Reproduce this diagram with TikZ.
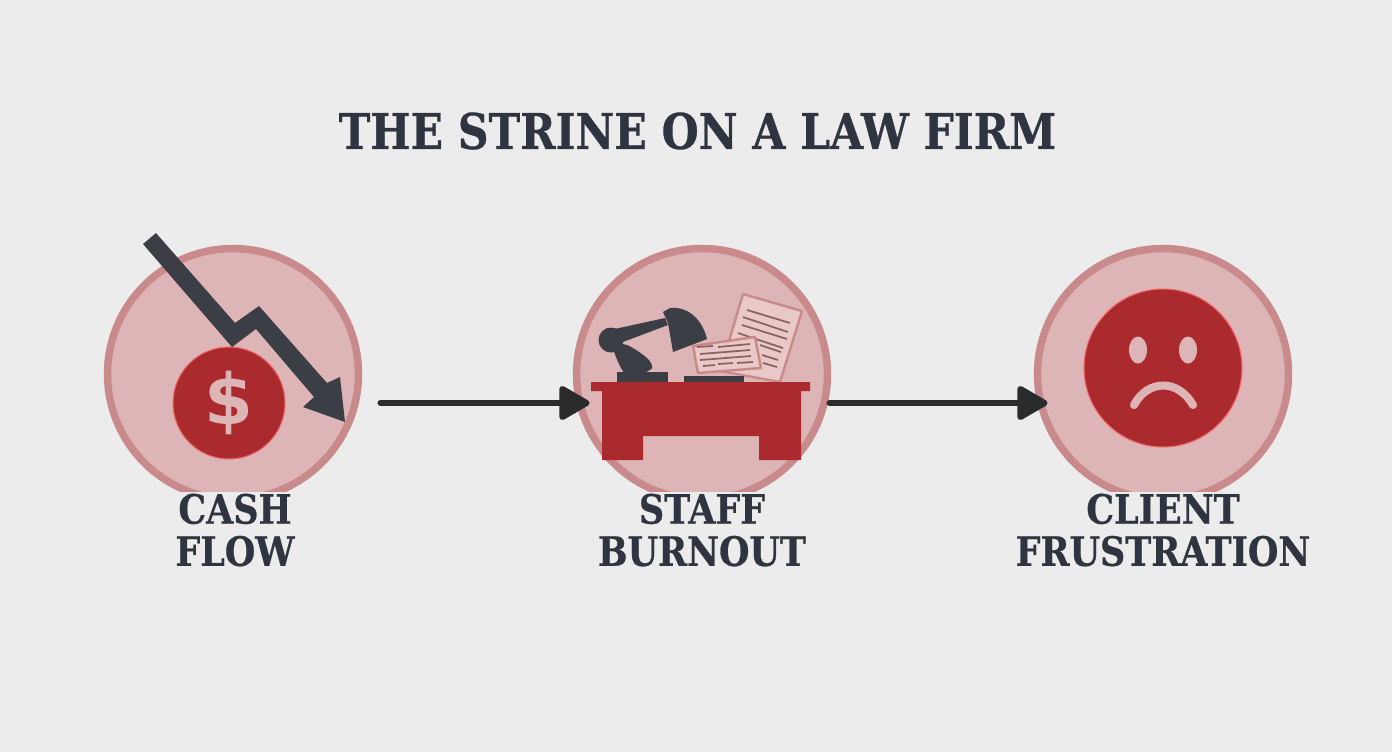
\documentclass[tikz,border=0pt]{standalone}
\usepackage{fontspec}
\setmainfont{DejaVu Serif}[FakeStretch=0.865,BoldFeatures={FakeBold=0.6}]
\newfontfamily\signfont{DejaVu Sans}
\usetikzlibrary{arrows.meta}
\definecolor{paperbg}{HTML}{EDECEC}
\definecolor{ringpink}{HTML}{C98A8C}
\definecolor{softpink}{HTML}{DDB5B6}
\definecolor{sheetpink}{HTML}{E8C9C8}
\definecolor{deskred}{HTML}{AB2A2D}
\definecolor{slate}{HTML}{3C3E45}
\definecolor{inkdark}{HTML}{2A2B2D}
\definecolor{titleink}{HTML}{2F3540}
\tikzset{
  stagecircle/.style={circle,draw=ringpink,fill=softpink,line width=4.25pt,minimum size=5.02cm,inner sep=0pt,outer sep=0pt},
  redbadge/.style={circle,draw=red!45!softpink,fill=deskred,line width=0.6pt,inner sep=0pt,outer sep=0pt},
  stagelabel/.style={fill=paperbg,text=titleink,font=\fontsize{23}{24}\selectfont\bfseries,align=center,inner sep=1pt},
  flowarrow/.style={draw=inkdark,line width=3.4pt,line cap=round,-{Triangle[length=19pt,width=21pt,round]}},
  sheet/.style={fill=sheetpink,draw=ringpink,line width=1.4pt,line join=round},
  sheetline/.style={draw=ringpink!70!black,line width=1pt}
}
\begin{document}
\begin{tikzpicture}[x=0.02cm,y=-0.02cm]
    % Draw the page
    \fill[paperbg] (0,0) rectangle (1392,752);
    \useasboundingbox (0,0) rectangle (1392,752);
    % Draw the title
    \node[text=titleink,font=\fontsize{28}{30}\selectfont\bfseries] (title) at (697.5,131) {THE STRINE ON A LAW FIRM};
    % Draw the three circles
    \node[stagecircle] (cashflow) at (233,374) {};
    \node[stagecircle] (burnout) at (702,374) {};
    \node[stagecircle] (client) at (1163,374) {};
    % Draw the coin
    \node[redbadge,minimum size=2.24cm,text=softpink,font=\fontsize{40}{40}\signfont\bfseries] (coin) at (229,403) {\$};
    % Draw the falling arrow
    \fill[slate] (143,244) -- (156,233) -- (235,323) -- (259,306) -- (327,383) -- (340,377) -- (345,422)
      -- (303,407) -- (314,397) -- (256,329) -- (232,347) -- cycle;
    % Draw the papers
    \draw[sheet] (743,294) -- (802,311) -- (780,382) -- (720,371) -- cycle;
    \foreach \xa/\ya/\xb/\yb in {
      747/310/790/323, 743/317/788/332, 742/325/787/339, 738/333/783/348,
      760/345/781/352, 762/355/778/360, 763/363/777/367} {
      \draw[sheetline] (\xa,\ya) -- (\xb,\yb);
    }
    \draw[sheet] (693,346) -- (755,337) -- (761,368) -- (698,373) -- cycle;
    \foreach \xa/\ya/\xb/\yb in {
      697/347/713/346, 718/347/750/344, 700/354/750/350, 700/360/751/356,
      703/366/715/365, 718/364/733/363, 737/363/753/362} {
      \draw[sheetline] (\xa,\ya) -- (\xb,\yb);
    }
    % Draw the lamp
    \fill[slate] (610,330) -- (665,318) -- (668,325) -- (623,342) -- cycle;
    \fill[slate] (663,312) -- (670,308) .. controls (690,306) and (703,322) .. (707,339) -- (673,352) -- (668,323) -- cycle;
    \fill[slate] (611,340) circle (12.5);
    \fill[slate] plot[smooth cycle] coordinates {(613,347) (627,345) (647,358) (652,368) (640,374) (625,374)};
    \fill[slate] (617,372) rectangle (668,383);
    \fill[slate] (684,376) rectangle (744,383);
    % Draw the desk
    \fill[deskred] (591,382) -- (810,382) -- (810,391) -- (801,391) -- (801,460) -- (759,460) -- (759,436)
      -- (643,436) -- (643,460) -- (602,460) -- (602,391) -- (591,391) -- cycle;
    % Draw the sad face
    \node[redbadge,minimum size=3.16cm] (face) at (1163,368) {};
    \fill[softpink] (1138,350) ellipse (9 and 13.5);
    \fill[softpink] (1188,350) ellipse (9 and 13.5);
    \draw[softpink,line width=4.6pt,line cap=round] (1134,405) .. controls (1148,379) and (1178,379) .. (1193,405);
    % Draw the labels
    \node[stagelabel] (cashlabel) at (235,530) {CASH\\FLOW};
    \node[stagelabel] (burnoutlabel) at (702,530) {STAFF\\BURNOUT};
    \node[stagelabel] (clientlabel) at (1163,530) {CLIENT\\FRUSTRATION};
    % Draw the connecting arrows
    \draw[flowarrow] ([shift={(22,29)}]cashflow.east) -- ([shift={(13,29)}]burnout.west);
    \draw[flowarrow] ([shift={(2,29)}]burnout.east) -- ([shift={(10,29)}]client.west);
\end{tikzpicture}
\end{document}
